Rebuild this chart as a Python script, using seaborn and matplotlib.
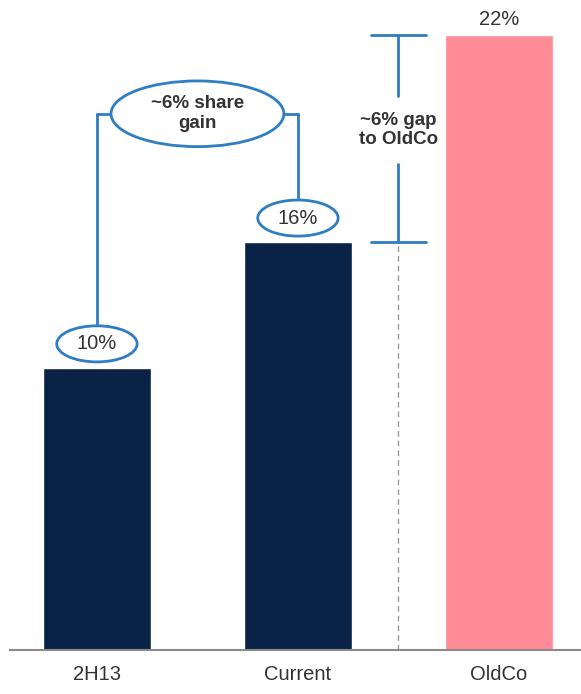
import matplotlib
matplotlib.use("Agg")
import matplotlib.pyplot as plt
from matplotlib.patches import Ellipse
import seaborn as sns
import pandas as pd

# values
periods = ["2H13", "Current", "OldCo"]
share_labels = ["10%", "16%", "22%"]
bar_heights = [10.1, 14.6, 22.0]   # drawn heights (chart is not to scale)
bar_colors = ["#0B2247", "#0B2247", "#FF8B97"]
gain_text = "~6% share\ngain"
gap_text = "~6% gap\nto OldCo"

BLUE = "#2F7DC3"
TEXT = "#333333"

sns.set_theme(style="white")
plt.rcParams["font.family"] = ["Liberation Sans", "DejaVu Sans"]

df = pd.DataFrame({"period": periods, "height": bar_heights})

fig = plt.figure(figsize=(5.81, 6.94), dpi=100)
ax = fig.add_axes([0.017, 0.0634, 0.983, 0.9366])

sns.barplot(data=df, x="period", y="height", hue="period",
            palette=bar_colors, width=0.54, legend=False, ax=ax,
            saturation=1)

ax.set_xlim(-0.433, 2.408)
ax.set_ylim(0, 23.25)
ax.set_xlabel("")
ax.set_ylabel("")
ax.set_yticks([])
ax.tick_params(axis="x", length=0, labelsize=14.5, labelcolor=TEXT, pad=11)
for s in ["top", "right", "left"]:
    ax.spines[s].set_visible(False)
ax.spines["bottom"].set_color("#8a8a8a")
ax.spines["bottom"].set_linewidth(1.5)


def oval(x, y, w, h, text, **kw):
    ax.add_patch(Ellipse((x, y), w, h, facecolor="white", edgecolor=BLUE,
                         lw=2.0, zorder=4))
    ax.text(x, y, text, ha="center", va="center", color=TEXT, zorder=5, **kw)


# small ovals with the bar values
off = 0.85
oh, ow = 1.29, 0.40
for i in range(2):
    oval(i, bar_heights[i] + off, ow, oh, share_labels[i], fontsize=14.5)

# big oval with connectors
gy = 19.18
gw, gh = 0.86, 2.35
for i in range(2):
    top = bar_heights[i] + off + oh / 2
    ax.plot([i, i], [top, gy], color=BLUE, lw=2.0, zorder=3)
ax.plot([0, 1], [gy, gy], color=BLUE, lw=2.0, zorder=3)
oval(0.5, gy, gw, gh, gain_text, fontsize=13.5, fontweight="bold",
     linespacing=1.2)

# gap bracket between Current and OldCo, broken around its text
bx = 1.5
cap = 0.135
ty = 18.6
half_gap = 1.2
ax.plot([bx, bx], [ty + half_gap, bar_heights[2]], color=BLUE, lw=2.0, zorder=3)
ax.plot([bx, bx], [bar_heights[1], ty - half_gap], color=BLUE, lw=2.0, zorder=3)
for yv in [bar_heights[1], bar_heights[2]]:
    ax.plot([bx - cap, bx + cap], [yv, yv], color=BLUE, lw=2.0, zorder=3)
ax.plot([bx, bx], [0, bar_heights[1]], color="#999999", lw=1.0,
        ls=(0, (4, 3)), zorder=2)
ax.text(bx, ty, gap_text, ha="center", va="center", color=TEXT,
        fontsize=13.5, fontweight="bold", linespacing=1.2, zorder=5)

# label above OldCo
ax.text(2, bar_heights[2] + 0.2, share_labels[2], ha="center", va="bottom",
        color=TEXT, fontsize=14.5)

fig.savefig("out.png", dpi=100)
